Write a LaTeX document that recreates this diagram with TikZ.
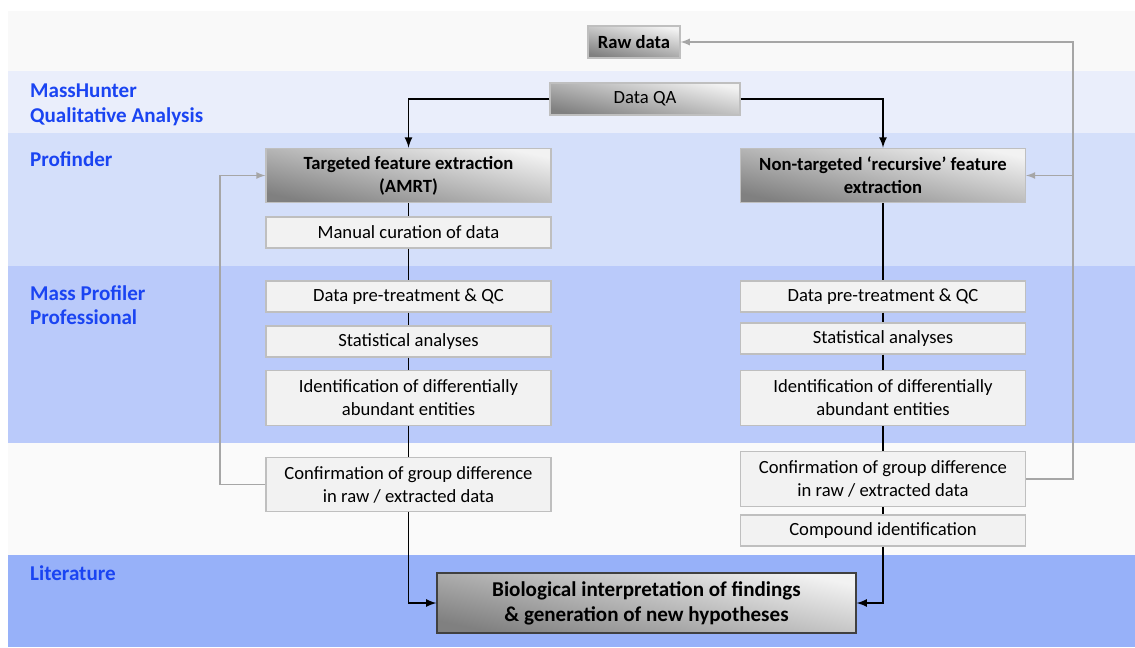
\documentclass[tikz,border=0pt]{standalone}
\usepackage{fontspec}
\setmainfont{Carlito}
\usetikzlibrary{arrows}
\usetikzlibrary{positioning}

\definecolor{lanetext}{HTML}{1A44F2}
\definecolor{bandraw}{HTML}{F9F9F9}
\definecolor{bandqa}{HTML}{EAEEFB}
\definecolor{bandpf}{HTML}{D4DFFA}
\definecolor{bandmpp}{HTML}{BACAFA}
\definecolor{bandconf}{HTML}{FAFAFA}
\definecolor{bandlit}{HTML}{97B1F9}
\definecolor{boxfill}{HTML}{F2F2F2}
\definecolor{boxline}{HTML}{BFBFBF}
\definecolor{loopline}{HTML}{A6A6A6}

\tikzset{
	lane/.style={anchor=north west, align=left, text=lanetext, font=\fontsize{12}{14.2}\selectfont\bfseries},
	stage/.style={draw=boxline, line width=0.7pt, fill=boxfill, align=center, inner sep=0pt,
		minimum width=5.7cm, minimum height=0.62cm, font=\fontsize{10.6}{13}\selectfont},
	tall/.style={minimum height=1.09cm},
	shaded/.style={stage, top color=boxfill, bottom color=black!50, shading angle=-12},
	flow/.style={draw=black, line width=1pt, -latex},
	link/.style={draw=black, line width=1pt},
	back/.style={draw=loopline, line width=0.8pt, -latex}
}

\begin{document}
\begin{tikzpicture}[x=0.02cm, y=-0.02cm]
	\useasboundingbox (0,0) rectangle (1135,647);

	% software bands
	\fill[bandraw]  (8,11)  rectangle (1135,71);
	\fill[bandqa]   (8,71)  rectangle (1135,133);
	\fill[bandpf]   (8,133) rectangle (1135,266);
	\fill[bandmpp]  (8,266) rectangle (1135,443);
	\fill[bandconf] (8,443) rectangle (1135,555);
	\fill[bandlit]  (8,555) rectangle (1135,647);

	\node[lane] (mh)  at (24,78)  {MassHunter\\Qualitative Analysis};
	\node[lane] (pf)  at (24,145) {Profinder};
	\node[lane] (mpp) at (24,279) {Mass Profiler\\Professional};
	\node[lane] (lit) at (24,559) {Literature};

	% top of the workflow
	\node[shaded, font=\fontsize{10.6}{13}\selectfont\bfseries, minimum width=1.84cm, minimum height=0.64cm] (raw) at (634,42) {Raw data};
	\node[shaded, minimum width=3.8cm, minimum height=0.64cm] (qa) at (645,99) {Data QA};

	% targeted branch
	\node[shaded, tall, font=\fontsize{10.6}{13}\selectfont\bfseries] (tfe) at (408.5,175.5) {Targeted feature extraction\\(AMRT)};
	\node[stage] (cur)   at (408.5,232.5) {Manual curation of data};
	\node[stage] (lpre)  at (408.5,296.5) {Data pre-treatment \& QC};
	\node[stage] (lstat) at (408.5,341.5) {Statistical analyses};
	\node[stage, tall] (lid)   at (408.5,398) {Identification of differentially\\abundant entities};
	\node[stage, tall] (lconf) at (408.5,484.5) {Confirmation of group difference\\in raw / extracted data};

	% non-targeted branch
	\node[shaded, tall, font=\fontsize{10.6}{13}\selectfont\bfseries] (ntfe) at (883,175.5) {Non-targeted `recursive' feature\\extraction};
	\node[stage] (rpre)  at (883,296.5) {Data pre-treatment \& QC};
	\node[stage] (rstat) at (883,338.5) {Statistical analyses};
	\node[stage, tall] (rid)   at (883,398) {Identification of differentially\\abundant entities};
	\node[stage, tall] (rconf) at (883,479) {Confirmation of group difference\\in raw / extracted data};
	\node[stage] (comp)  at (883,530.5) {Compound identification};

	\node[shaded, draw=black!75, minimum width=8.38cm, minimum height=1.2cm, font=\fontsize{12}{14.2}\selectfont\bfseries] (bio) at (646.5,603)
		{Biological interpretation of findings\\\& generation of new hypotheses};

	% main flow
	\draw[flow] (qa.west) -| (tfe.north);
	\draw[flow] (qa.east) -| (ntfe.north);

	\draw[link] (tfe) -- (cur);
	\draw[link] (cur) -- (lpre);
	\draw[link] (lpre) -- (lstat);
	\draw[link] (lstat) -- (lid);
	\draw[link] (lid) -- (lconf);
	\draw[flow] (lconf.south) |- (bio.west);

	\draw[link] (ntfe) -- (rpre);
	\draw[link] (rpre) -- (rstat);
	\draw[link] (rstat) -- (rid);
	\draw[link] (rid) -- (rconf);
	\draw[link] (rconf) -- (comp);
	\draw[flow] (comp.south) |- (bio.east);

	% feedback loops
	\coordinate (railL) at (220,0);
	\coordinate (railR) at (1073,0);
	\draw[back] (lconf.west) -- (lconf.west -| railL) -- (tfe.west -| railL) -- (tfe.west);
	\draw[back] (rconf.east) -- (rconf.east -| railR) -- (raw.east -| railR) -- (raw.east);
	\draw[back] (ntfe.east -| railR) -- (ntfe.east);
\end{tikzpicture}
\end{document}
